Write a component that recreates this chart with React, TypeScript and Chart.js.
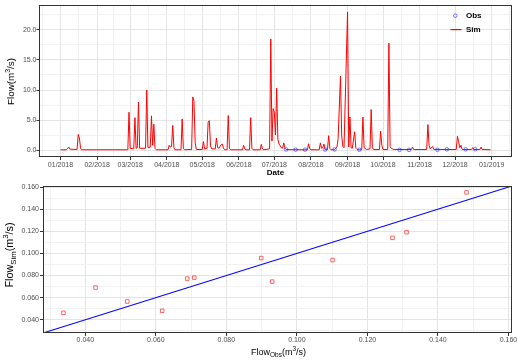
import React, { useEffect, useRef } from "react";
import { Chart, registerables } from "chart.js";

Chart.register(...registerables);

const FONT = "'Liberation Sans', Arial, Helvetica, sans-serif";

// ---- Top panel: simulated daily flow (day index counted from 01/01/2018), m3/s
const simDays = [
  0, 5, 7, 8, 14, 15, 16, 17, 18, 57, 58, 59, 62, 63, 64, 65, 66, 67, 72, 73, 74, 76, 77, 78, 79, 80, 81,
  91, 92, 93, 94, 95, 96, 97, 102, 103, 104, 105, 111, 112, 113, 114, 115, 120, 121, 122, 124, 125, 126,
  127, 128, 131, 132, 133, 134, 136, 137, 138, 139, 141, 142, 143, 144, 154, 155, 156, 157, 160, 161, 162,
  163, 169, 170, 171, 172, 177, 178, 179, 180, 181, 182, 183, 184, 185, 186, 187, 188, 189, 190, 191, 209,
  210, 211, 212, 219, 220, 221, 222, 223, 224, 226, 227, 228, 229, 232, 234, 235, 237, 238, 239, 240, 243,
  244, 245, 246, 247, 249, 250, 251, 253, 255, 256, 257, 259, 262, 263, 264, 265, 270, 271, 272, 273, 277,
  278, 279, 280, 282, 297, 298, 299, 310, 311, 312, 313, 315, 316, 335, 336, 337, 338, 339, 340, 348, 349,
  350, 355, 356, 357, 364,
];
const simFlow = [
  0.05, 0.05, 0.5, 0.15, 0.1, 2.6, 2.0, 0.3, 0.05, 0.05, 6.3, 0.3, 0.2, 5.4, 0.3, 0.4, 8.0, 0.3, 0.3, 10.0, 0.4, 0.5, 5.7, 0.8, 4.3, 0.3, 0.05,
  0.05, 0.8, 0.5, 0.6, 4.1, 0.4, 0.05, 0.05, 5.2, 0.3, 0.05, 0.1, 8.85, 8.1, 1.2, 0.1, 0.1, 1.4, 0.2, 0.3, 4.7, 4.9,
  0.7, 0.2, 0.2, 2.0, 0.4, 0.3, 0.9, 1.0, 0.3, 0.05, 0.05, 5.75, 0.3, 0.05, 0.05, 0.8, 0.2, 0.05, 0.05, 5.4, 0.3,
  0.05, 0.05, 0.95, 0.2, 0.05, 0.2, 18.5, 1.5, 6.9, 6.3, 2.5, 10.3, 1.8, 1.0, 0.7, 0.4, 0.3, 1.2, 0.3, 0.08, 0.05,
  1.05, 0.2, 0.05, 0.05, 1.2, 0.3, 0.4, 1.0, 0.06, 0.1, 2.4, 0.3, 0.05, 0.07, 0.5, 1.9, 12.3, 2.5, 0.6, 0.4, 23.0,
  0.5, 5.5, 0.4, 0.3, 3.05, 0.3, 0.1, 0.05, 0.1, 5.5, 0.4, 0.1, 0.2, 6.75, 0.4, 0.1, 0.1, 3.15, 0.8, 0.1, 0.1,
  17.8, 0.6, 0.3, 0.1, 0.1, 0.5, 0.1, 0.1, 4.25, 0.8, 0.2, 0.6, 0.1, 0.1, 2.3, 1.4, 0.4, 0.8, 0.1, 0.1, 0.4,
  0.1, 0.1, 0.5, 0.1, 0.05,
];

// Observation days and observed / simulated flow on those days (m3/s)
const obsDays = [191, 199, 207, 224, 232, 253, 287, 295, 319, 327, 343, 351];
const obsFlow = [0.0930, 0.0689, 0.0709, 0.0899, 0.1101, 0.0618, 0.0429, 0.0338, 0.0519, 0.1271, 0.1311, 0.1481];
const simAtObs = [0.0745, 0.0772, 0.0781, 0.0958, 0.0940, 0.0481, 0.0691, 0.0463, 0.0565, 0.1141, 0.1192, 0.1552];

// Axis ticks
const monthDays = [0, 31, 59, 90, 120, 151, 181, 212, 243, 273, 304, 334, 365];
const monthLabels = [
  "01/2018", "02/2018", "03/2018", "04/2018", "05/2018", "06/2018", "07/2018",
  "08/2018", "09/2018", "10/2018", "11/2018", "12/2018", "01/2019",
];
const flowTicks = [0, 5, 10, 15, 20];
const scatterTicks = [0.04, 0.06, 0.08, 0.1, 0.12, 0.14, 0.16];

const TOP_X = { min: -18.2, max: 382.2 };
const TOP_Y = { min: -1.15, max: 24.15 };
const SC = { min: 0.028, max: 0.161 };

const TICK_COLOR = "#4d4d4d";
const MAJOR_GRID = "#e4e4e4";
const MINOR_GRID = "#f1f1f1";
const FRAME = "#333333";

function midpoints(majors: number[], min: number, max: number) {
  const out: number[] = [];
  const first = majors[0] - (majors[1] - majors[0]) / 2;
  if (first >= min) out.push(first);
  for (let i = 0; i < majors.length - 1; i++) out.push((majors[i] + majors[i + 1]) / 2);
  const n = majors.length;
  const last = majors[n - 1] + (majors[n - 1] - majors[n - 2]) / 2;
  if (last <= max) out.push(last);
  return out;
}

const key = (v: number) => v.toFixed(5);

function axisOpts(opts: {
  majors: number[];
  labels: string[];
  min: number;
  max: number;
  fit: (s: any) => void;
  tickLength: number;
  padding: number;
}) {
  const labelMap = new Map<string, string>();
  opts.majors.forEach((v, i) => labelMap.set(key(v), opts.labels[i]));
  const minors = midpoints(opts.majors, opts.min, opts.max);
  const all = [...opts.majors, ...minors].sort((a, b) => a - b);
  const isMajor = (v: number) => labelMap.has(key(v));
  return {
    type: "linear" as const,
    min: opts.min,
    max: opts.max,
    afterBuildTicks: (scale: any) => {
      scale.ticks = all.map((v) => ({ value: v }));
    },
    afterFit: (scale: any) => {
      opts.fit(scale);
      scale.paddingLeft = 0;
      scale.paddingRight = 0;
      scale.paddingTop = 0;
      scale.paddingBottom = 0;
    },
    ticks: {
      autoSkip: false,
      maxRotation: 0,
      minRotation: 0,
      padding: opts.padding,
      color: TICK_COLOR,
      font: { family: FONT, size: 7 },
      callback: (value: any) => labelMap.get(key(Number(value))) ?? "",
    },
    grid: {
      drawTicks: true,
      tickLength: opts.tickLength,
      lineWidth: 1,
      color: (ctx: any) => (ctx.tick && isMajor(ctx.tick.value) ? MAJOR_GRID : MINOR_GRID),
      tickColor: (ctx: any) => (ctx.tick && isMajor(ctx.tick.value) ? FRAME : "rgba(0,0,0,0)"),
    },
    border: { display: false },
  };
}

type Part = { t: string; size: number; dy?: number; bold?: boolean };

function drawRich(ctx: CanvasRenderingContext2D, parts: Part[], cx: number, cy: number, rotate: boolean) {
  ctx.save();
  ctx.translate(cx, cy);
  if (rotate) ctx.rotate(-Math.PI / 2);
  ctx.textBaseline = "middle";
  ctx.textAlign = "left";
  ctx.fillStyle = "#000000";
  const fontOf = (p: Part) => `${p.bold ? "bold " : ""}${p.size}px ${FONT}`;
  const widths = parts.map((p) => {
    ctx.font = fontOf(p);
    return ctx.measureText(p.t).width;
  });
  const total = widths.reduce((a, b) => a + b, 0);
  let x = -total / 2;
  parts.forEach((p, i) => {
    ctx.font = fontOf(p);
    ctx.fillText(p.t, x, p.dy || 0);
    x += widths[i];
  });
  ctx.restore();
}

function drawFrame(chart: any) {
  const { ctx, chartArea } = chart;
  const l = Math.round(chartArea.left) + 0.5;
  const t = Math.round(chartArea.top) + 0.5;
  const r = Math.round(chartArea.right) - 0.5;
  const b = Math.round(chartArea.bottom) - 0.5;
  ctx.save();
  ctx.strokeStyle = FRAME;
  ctx.lineWidth = 1;
  ctx.strokeRect(l, t, r - l, b - t);
  ctx.restore();
}

const OBS_COLOR = "rgba(40,40,255,0.6)";
const SIM_COLOR = "#ff0000";

export default function App() {
  const topRef = useRef<HTMLCanvasElement | null>(null);
  const botRef = useRef<HTMLCanvasElement | null>(null);

  useEffect(() => {
    if (!topRef.current || !botRef.current) return;

    const topPlugin = {
      id: "topDecor",
      afterDraw(chart: any) {
        const ctx = chart.ctx as CanvasRenderingContext2D;
        drawFrame(chart);
        // axis titles
        drawRich(ctx, [{ t: "Date", size: 8, bold: true }], 275.5, 173, false);
        drawRich(
          ctx,
          [
            { t: "Flow(m", size: 9.8 },
            { t: "3", size: 7, dy: -3.5 },
            { t: "/s)", size: 9.8 },
          ],
          11.7,
          81.5,
          true
        );
        // legend
        ctx.save();
        ctx.strokeStyle = OBS_COLOR;
        ctx.lineWidth = 1;
        ctx.beginPath();
        ctx.arc(455.3, 15.7, 1.8, 0, Math.PI * 2);
        ctx.stroke();
        ctx.fillStyle = SIM_COLOR;
        ctx.fillRect(450.5, 29, 11, 1.2);
        ctx.fillStyle = "#000000";
        ctx.font = `bold 8px ${FONT}`;
        ctx.textBaseline = "middle";
        ctx.textAlign = "left";
        ctx.fillText("Obs", 466, 16);
        ctx.fillText("Sim", 466, 29.5);
        ctx.restore();
      },
    };

    const top = new Chart(topRef.current, {
      type: "line",
      data: {
        datasets: [
          {
            label: "Obs",
            data: obsDays.map((d, i) => ({ x: d, y: obsFlow[i] })),
            showLine: false,
            pointStyle: "circle",
            pointRadius: 1.8,
            pointBorderWidth: 1,
            pointBorderColor: OBS_COLOR,
            pointBackgroundColor: "rgba(0,0,0,0)",
            borderColor: OBS_COLOR,
            backgroundColor: "rgba(0,0,0,0)",
          },
          {
            label: "Sim",
            data: simDays.map((d, i) => ({ x: d, y: simFlow[i] })),
            borderColor: SIM_COLOR,
            backgroundColor: SIM_COLOR,
            borderWidth: 1,
            pointRadius: 0,
            tension: 0,
            fill: false,
          },
        ],
      },
      options: {
        responsive: false,
        animation: false,
        devicePixelRatio: 1,
        events: [],
        layout: { padding: { top: 5, right: 5, left: 0, bottom: 0 } },
        plugins: { legend: { display: false }, tooltip: { enabled: false } },
        scales: {
          x: axisOpts({
            majors: monthDays,
            labels: monthLabels,
            min: TOP_X.min,
            max: TOP_X.max,
            fit: (s) => {
              s.height = 23;
            },
            tickLength: 3,
            padding: 0.5,
          }) as any,
          y: axisOpts({
            majors: flowTicks,
            labels: flowTicks.map((v) => v.toFixed(1)),
            min: TOP_Y.min,
            max: TOP_Y.max,
            fit: (s) => {
              s.width = 39;
            },
            tickLength: 2.5,
            padding: 0,
          }) as any,
        },
      },
      plugins: [topPlugin],
    });

    const botPlugin = {
      id: "botDecor",
      afterDraw(chart: any) {
        const ctx = chart.ctx as CanvasRenderingContext2D;
        drawFrame(chart);
        drawRich(
          ctx,
          [
            { t: "Flow", size: 9 },
            { t: "Obs", size: 6.5, dy: 2.5 },
            { t: "(m", size: 9 },
            { t: "3", size: 6.5, dy: -3.5 },
            { t: "/s)", size: 9 },
          ],
          278.5,
          172.7,
          false
        );
        drawRich(
          ctx,
          [
            { t: "Flow", size: 10.8 },
            { t: "Sim", size: 7.8, dy: 3 },
            { t: "(m", size: 10.8 },
            { t: "3", size: 7.8, dy: -4.2 },
            { t: "/s)", size: 10.8 },
          ],
          10.5,
          75,
          true
        );
      },
    };

    const bot = new Chart(botRef.current, {
      type: "scatter",
      data: {
        datasets: [
          {
            label: "1:1",
            type: "line",
            data: [
              { x: SC.min, y: SC.min },
              { x: SC.max, y: SC.max },
            ],
            borderColor: "#0000ff",
            backgroundColor: "#0000ff",
            borderWidth: 1.1,
            pointRadius: 0,
            showLine: true,
            tension: 0,
          } as any,
          {
            label: "Obs vs Sim",
            data: obsFlow.map((v, i) => ({ x: v, y: simAtObs[i] })),
            pointStyle: "rect",
            pointRadius: 2.5,
            pointBorderWidth: 1,
            pointBorderColor: "rgba(255,40,40,0.7)",
            pointBackgroundColor: "rgba(0,0,0,0)",
            borderColor: "rgba(255,40,40,0.7)",
            backgroundColor: "rgba(0,0,0,0)",
          },
        ],
      },
      options: {
        responsive: false,
        animation: false,
        devicePixelRatio: 1,
        events: [],
        layout: { padding: { top: 6, right: 5, left: 0, bottom: 0 } },
        plugins: { legend: { display: false }, tooltip: { enabled: false } },
        scales: {
          x: axisOpts({
            majors: scatterTicks,
            labels: scatterTicks.map((v) => v.toFixed(3)),
            min: SC.min,
            max: SC.max,
            fit: (s) => {
              s.height = 28;
            },
            tickLength: 3,
            padding: 0,
          }) as any,
          y: axisOpts({
            majors: scatterTicks,
            labels: scatterTicks.map((v) => v.toFixed(3)),
            min: SC.min,
            max: SC.max,
            fit: (s) => {
              s.width = 43;
            },
            tickLength: 3,
            padding: 1,
          }) as any,
        },
      },
      plugins: [botPlugin],
    });

    return () => {
      top.destroy();
      bot.destroy();
    };
  }, []);

  return (
    <div style={{ position: "fixed", left: 0, top: 0, width: 517, height: 361, background: "#ffffff" }}>
      <canvas ref={topRef} width={517} height={180} style={{ position: "absolute", left: 0, top: 0, width: 517, height: 180 }} />
      <canvas ref={botRef} width={517} height={181} style={{ position: "absolute", left: 0, top: 180, width: 517, height: 181 }} />
    </div>
  );
}
